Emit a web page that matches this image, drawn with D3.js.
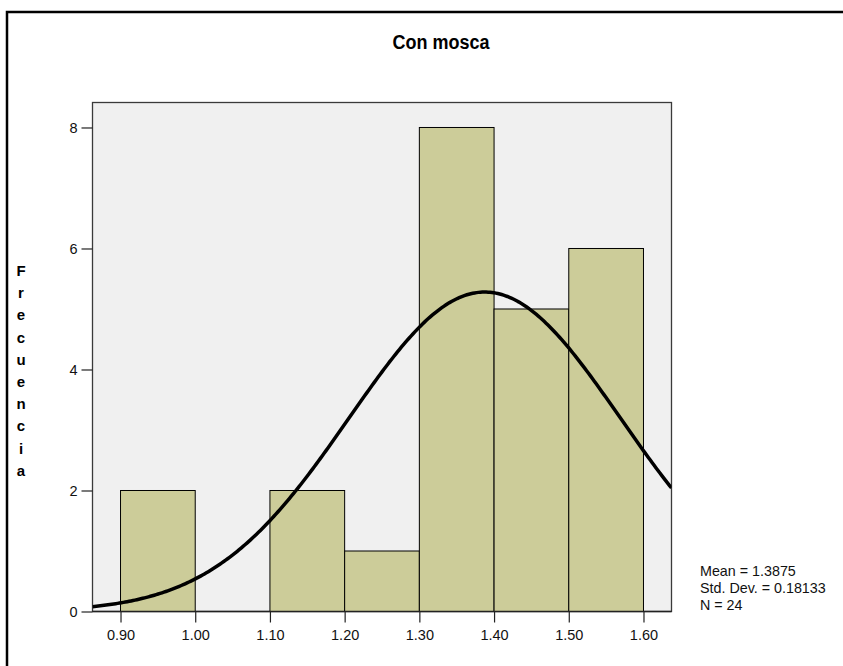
<!DOCTYPE html>
<html>
<head>
<meta charset="utf-8">
<script src="https://cdn.jsdelivr.net/npm/d3@7"></script>
<style>
  html, body { margin: 0; padding: 0; background: #ffffff; }
  svg { display: block; }
</style>
</head>
<body>
<script>
// Histogram bins (lower edge, upper edge) and counts
const binStarts = [0.90, 1.00, 1.10, 1.20, 1.30, 1.40, 1.50];
const binEnds   = [1.00, 1.10, 1.20, 1.30, 1.40, 1.50, 1.60];
const counts    = [2, 0, 2, 1, 8, 5, 6];

// Axis tick labels
const xTicks = [0.90, 1.00, 1.10, 1.20, 1.30, 1.40, 1.50, 1.60];
const yTicks = [0, 2, 4, 6, 8];

// Summary statistics shown beside the plot
const meanValue = 1.3875;
const stdDev = 0.18133;
const nValue = 24;
const binWidth = 0.1;

const title = "Con mosca";
const yLabel = "Frecuencia";

const W = 843, H = 666;
const plot = { left: 92.5, top: 102.5, right: 671.5, bottom: 611.5 };

const svg = d3.select("body").append("svg")
  .attr("width", W).attr("height", H);

// outer frame (open at right and bottom)
svg.append("path")
  .attr("d", `M7,${H} L7,12 L${W},12`)
  .attr("fill", "none").attr("stroke", "#000").attr("stroke-width", 2.5);

const x = d3.scaleLinear().domain([0.8625, 1.6375]).range([plot.left, plot.right]);
const y = d3.scaleLinear().domain([0, 8.413]).range([plot.bottom, plot.top]);

// plot background
svg.append("rect")
  .attr("x", plot.left).attr("y", plot.top)
  .attr("width", plot.right - plot.left).attr("height", plot.bottom - plot.top)
  .attr("fill", "#f0f0f0").attr("stroke", "#3a3a3a").attr("stroke-width", 1.3);

// bars
const bins = binStarts.map((s, i) => ({ x0: s, x1: binEnds[i], n: counts[i] }));
svg.append("g").selectAll("rect").data(bins.filter(d => d.n > 0)).join("rect")
  .attr("x", d => x(d.x0))
  .attr("y", d => y(d.n))
  .attr("width", d => x(d.x1) - x(d.x0))
  .attr("height", d => y(0) - y(d.n))
  .attr("fill", "#cccc99")
  .attr("stroke", "#000").attr("stroke-width", 1);

// fitted normal curve scaled to counts
const curveX = d3.range(0, 301).map(i => 0.8625 + i * (1.6375 - 0.8625) / 300);
const scaleK = nValue * binWidth / (stdDev * Math.sqrt(2 * Math.PI));
const curve = curveX.map(v => [v, scaleK * Math.exp(-0.5 * Math.pow((v - meanValue) / stdDev, 2))]);
svg.append("clipPath").attr("id", "plotclip").append("rect")
  .attr("x", plot.left).attr("y", plot.top)
  .attr("width", plot.right - plot.left).attr("height", plot.bottom - plot.top);
svg.append("path")
  .datum(curve)
  .attr("clip-path", "url(#plotclip)")
  .attr("d", d3.line().x(d => x(d[0])).y(d => y(d[1])))
  .attr("fill", "none").attr("stroke", "#000").attr("stroke-width", 3.5);

// axes
const font = "'Liberation Sans', Arial, sans-serif";
const xAxis = svg.append("g")
  .attr("transform", `translate(0,${plot.bottom})`)
  .call(d3.axisBottom(x).tickValues(xTicks).tickFormat(d3.format(".2f")).tickSize(11).tickPadding(5));
const yAxis = svg.append("g")
  .attr("transform", `translate(${plot.left},0)`)
  .call(d3.axisLeft(y).tickValues(yTicks).tickFormat(d3.format("d")).tickSize(11).tickPadding(4));
[xAxis, yAxis].forEach(g => {
  g.select(".domain").remove();
  g.selectAll("line").attr("stroke", "#222").attr("stroke-width", 1.2);
  g.selectAll("text").attr("fill", "#111").style("font-family", font).style("font-size", "14.5px");
});
xAxis.selectAll("text").attr("dy", "0.85em");
// x axis baseline across plot
svg.append("line")
  .attr("x1", plot.left).attr("x2", plot.right)
  .attr("y1", plot.bottom).attr("y2", plot.bottom)
  .attr("stroke", "#222").attr("stroke-width", 1.3);

// title
svg.append("text")
  .attr("x", 441).attr("y", 49)
  .attr("text-anchor", "middle")
  .attr("textLength", 97).attr("lengthAdjust", "spacingAndGlyphs")
  .style("font-family", font)
  .style("font-weight", "bold").style("font-size", "20px")
  .text(title);

// vertical stacked axis title
svg.append("g").selectAll("text").data(yLabel.split("")).join("text")
  .attr("x", 21).attr("y", (d, i) => 276 + i * 22.2)
  .attr("text-anchor", "middle")
  .style("font-family", font).style("font-weight", "bold").style("font-size", "15px")
  .text(d => d);

// statistics box
const stats = [`Mean = ${meanValue}`, `Std. Dev. = ${stdDev}`, `N = ${nValue}`];
svg.append("g").selectAll("text").data(stats).join("text")
  .attr("x", 700).attr("y", (d, i) => 576 + i * 17)
  .style("font-family", font).style("font-size", "14.3px").attr("fill", "#111")
  .text(d => d);
</script>
</body>
</html>
